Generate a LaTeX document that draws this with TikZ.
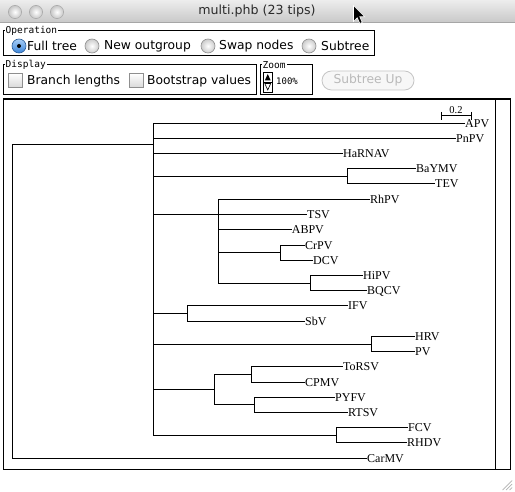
\documentclass[tikz,border=0pt]{standalone}
\usepackage{fontspec}
\setmainfont{Liberation Serif}
\newfontfamily\uifnt{DejaVu Sans}
\newfontfamily\pixfnt{DejaVu Sans Mono}
\newcommand\lfnt{\fontsize{12bp}{14bp}\selectfont}
\definecolor{tbtop}{HTML}{EDEDED}
\definecolor{tbbot}{HTML}{C9C9C9}
\definecolor{btnedge}{HTML}{8F8F8F}
\definecolor{selA}{HTML}{A9CFF7}
\definecolor{selB}{HTML}{3C85DA}
\definecolor{titletxt}{HTML}{2A2A2A}
\tikzset{
  treeline/.style={line width=1bp, black},
  leaf/.style={anchor=west, inner sep=0pt, text height=8bp, text depth=0pt, font=\lfnt},
  uitext/.style={anchor=west, inner sep=0pt, font=\uifnt\fontsize{12.3bp}{14bp}\selectfont},
  grouplabel/.style={anchor=west, inner sep=1bp, fill=white, font=\pixfnt\fontsize{9.5bp}{11bp}\selectfont},
  groupbox/.style={line width=1bp, black},
  radio/.style={inner color=white, outer color=gray!40},
  radioedge/.style={draw=btnedge, line width=0.6bp},
  checkbox/.style={top color=white, bottom color=gray!30},
}
\begin{document}
\begin{tikzpicture}[x=1bp,y=-1bp]
\useasboundingbox (0,0) rectangle (515,492);
\fill[white] (0,0) rectangle (515,492);
% title bar
\shade[top color=tbtop,bottom color=tbbot] (0,0) rectangle (515,22);
\draw[gray!70, line width=0.6bp] (0,22.3) -- (515,22.3);
\foreach \cx in {15,36,57}{
  \shade[inner color=white, outer color=gray!45] (\cx,12) circle (6.6);
  \draw[gray!65, line width=0.6bp] (\cx,12) circle (6.6);
}
\node[font=\uifnt\fontsize{12.6bp}{14bp}\selectfont, text=titletxt, inner sep=0pt] (title) at (257,11.5) {multi.phb (23 tips)};
% mouse cursor
\begin{scope}[shift={(353.5,5.5)}]
  \filldraw[fill=black, draw=white, line width=0.6bp, line join=miter]
    (0,0) -- (0,16) -- (3.8,12.3) -- (6.3,18) -- (8.7,17) -- (6.3,11.3) -- (11.3,11.3) -- cycle;
\end{scope}
% Operation group
\draw[groupbox] (3.5,31) rectangle (374,56);
\node[grouplabel] (oplabel) at (4.5,31) {Operation};
\shade[top color=selA, bottom color=selB] (19,46) circle (7);
\draw[draw=selB!70!black, line width=0.6bp] (19,46) circle (7);
\fill[black] (19,46) circle (2);
\node[uitext] (fulltree) at (27,46) {Full tree};
\shade[radio] (92,46) circle (7); \draw[radioedge] (92,46) circle (7);
\node[uitext] (newout) at (104,46) {New outgroup};
\shade[radio] (208,46) circle (7); \draw[radioedge] (208,46) circle (7);
\node[uitext] (swap) at (219,46) {Swap nodes};
\shade[radio] (309,46) circle (7); \draw[radioedge] (309,46) circle (7);
\node[uitext] (subtree) at (321,46) {Subtree};
% Display group
\draw[groupbox] (3.5,65) rectangle (256,94.5);
\node[grouplabel] (displabel) at (4.5,65) {Display};
\shade[checkbox] (8,73.5) rectangle (22,87.5); \draw[radioedge] (8,73.5) rectangle (22,87.5);
\node[uitext] (branch) at (27,81) {Branch lengths};
\shade[checkbox] (129,73.5) rectangle (143,87.5); \draw[radioedge] (129,73.5) rectangle (143,87.5);
\node[uitext] (boot) at (147,81) {Bootstrap values};
% Zoom group
\draw[groupbox] (260.5,65) rectangle (312,94.5);
\node[grouplabel] (zoomlabel) at (261.5,65) {Zoom};
\draw[line width=0.8bp] (263.5,72) rectangle (272,92);
\draw[line width=0.8bp] (263.5,82) -- (272,82);
\fill (264.8,80.5) -- (270.7,80.5) -- (267.75,74) -- cycle;
\draw[line width=0.6bp] (264.8,83.5) -- (270.7,83.5) -- (267.75,90) -- cycle;
\node[anchor=west, inner sep=0pt, font=\pixfnt\fontsize{9bp}{11bp}\selectfont] (zoomval) at (276,81) {100\%};
% Subtree Up button (disabled)
\draw[fill=gray!6, draw=gray!45, line width=0.8bp, rounded corners=9.5bp] (322,71) rectangle (414,90);
\node[font=\uifnt\fontsize{12.3bp}{14bp}\selectfont, text=gray!55, inner sep=0pt] (subup) at (368,80.5) {Subtree Up};
% tree frame
\draw[line width=1.1bp] (3.5,99) rectangle (510.5,469.5);
\draw[line width=1.1bp] (495.7,99) -- (495.7,469.5);
% scale bar
\draw[treeline] (441.7,115.7) -- (471.7,115.7);
\draw[treeline] (441.7,111.8) -- (441.7,119.6);
\draw[treeline] (471.7,111.8) -- (471.7,119.6);
\node[anchor=base, inner sep=0pt, font=\fontsize{10.5bp}{12bp}\selectfont] (scalelbl) at (456,113.5) {0.2};
% leaves
\node[leaf] (APV) at (465,123.3) {APV};
\node[leaf] (PnPV) at (456,138.5) {PnPV};
\node[leaf] (HaRNAV) at (343,153.5) {HaRNAV};
\node[leaf] (BaYMV) at (416,168.9) {BaYMV};
\node[leaf] (TEV) at (435,184) {TEV};
\node[leaf] (RhPV) at (370,199.4) {RhPV};
\node[leaf] (TSV) at (307,214.6) {TSV};
\node[leaf] (ABPV) at (291.7,229.8) {ABPV};
\node[leaf] (CrPV) at (305,245.1) {CrPV};
\node[leaf] (DCV) at (313,260.3) {DCV};
\node[leaf] (HiPV) at (363,275.5) {HiPV};
\node[leaf] (BQCV) at (367,290.7) {BQCV};
\node[leaf] (IFV) at (348,305.9) {IFV};
\node[leaf] (SbV) at (305,321.2) {SbV};
\node[leaf] (HRV) at (415,336.4) {HRV};
\node[leaf] (PV) at (415,351.6) {PV};
\node[leaf] (ToRSV) at (343,366.8) {ToRSV};
\node[leaf] (CPMV) at (305,382.1) {CPMV};
\node[leaf] (PYFV) at (335,397.3) {PYFV};
\node[leaf] (RTSV) at (348,412.5) {RTSV};
\node[leaf] (FCV) at (408,427.7) {FCV};
\node[leaf] (RHDV) at (407,442.9) {RHDV};
\node[leaf] (CarMV) at (367,458.1) {CarMV};
% internal nodes
\coordinate (root) at (12.3,300);
\coordinate (M) at (153.3,144.3);
\coordinate (BT) at (347.3,176.3);
\coordinate (RH) at (218.3,214.6);
\coordinate (CD) at (280.7,252.7);
\coordinate (HB) at (310.7,283.1);
\coordinate (IS) at (187.7,313.5);
\coordinate (HP) at (371,344);
\coordinate (TC) at (214.3,389.7);
\coordinate (TR) at (251.7,374.5);
\coordinate (PR) at (254.3,404.9);
\coordinate (FR) at (336.7,435.3);
% branches
\draw[treeline] (root) |- (M);
\draw[treeline] (root) |- (CarMV.west);
\draw[treeline] (M) |- (APV.west);
\draw[treeline] (M) |- (PnPV.west);
\draw[treeline] (M) |- (HaRNAV.west);
\draw[treeline] (M) |- (BT);
\draw[treeline] (BT) |- (BaYMV.west);
\draw[treeline] (BT) |- (TEV.west);
\draw[treeline] (M) |- (RH);
\draw[treeline] (RH) |- (RhPV.west);
\draw[treeline] (RH) |- (TSV.west);
\draw[treeline] (RH) |- (ABPV.west);
\draw[treeline] (RH) |- (CD);
\draw[treeline] (CD) |- (CrPV.west);
\draw[treeline] (CD) |- (DCV.west);
\draw[treeline] (RH) |- (HB);
\draw[treeline] (HB) |- (HiPV.west);
\draw[treeline] (HB) |- (BQCV.west);
\draw[treeline] (M) |- (IS);
\draw[treeline] (IS) |- (IFV.west);
\draw[treeline] (IS) |- (SbV.west);
\draw[treeline] (M) |- (HP);
\draw[treeline] (HP) |- (HRV.west);
\draw[treeline] (HP) |- (PV.west);
\draw[treeline] (M) |- (TC);
\draw[treeline] (TC) |- (TR);
\draw[treeline] (TR) |- (ToRSV.west);
\draw[treeline] (TR) |- (CPMV.west);
\draw[treeline] (TC) |- (PR);
\draw[treeline] (PR) |- (PYFV.west);
\draw[treeline] (PR) |- (RTSV.west);
\draw[treeline] (M) |- (FR);
\draw[treeline] (FR) |- (FCV.west);
\draw[treeline] (FR) |- (RHDV.west);
% resize grip
\draw[gray!60, line width=0.7bp] (502.5,490) -- (512,480.5);
\draw[gray!60, line width=0.7bp] (506,490) -- (512,484);
\draw[gray!60, line width=0.7bp] (509.5,490) -- (512,487.5);
\end{tikzpicture}
\end{document}
